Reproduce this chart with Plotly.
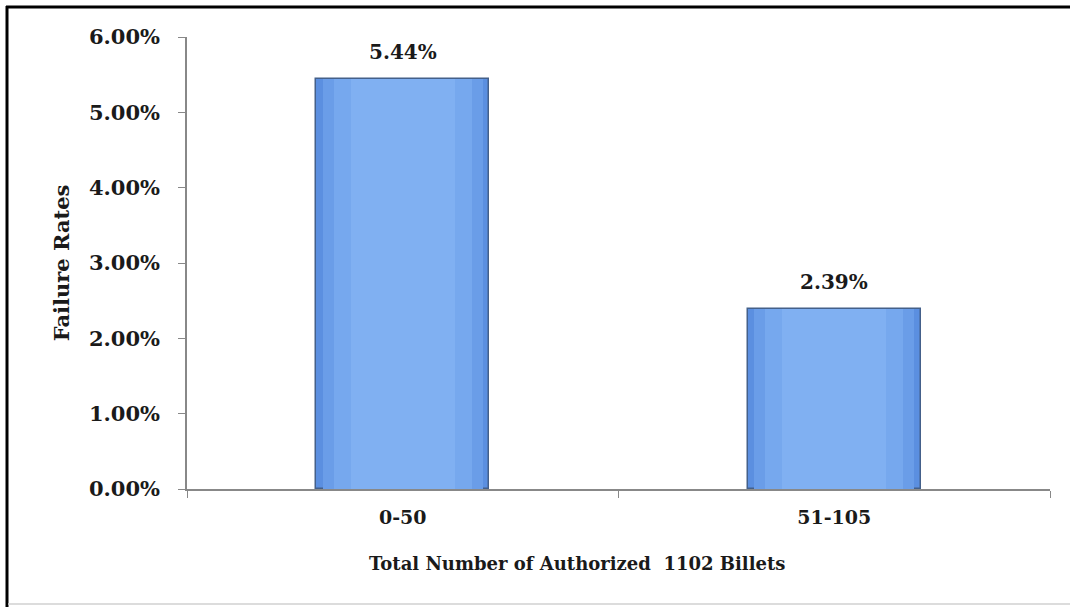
import plotly.graph_objects as go

categories = ["0-50", "51-105"]
failure_rates = [5.44, 2.39]
y_ticks = [0, 1, 2, 3, 4, 5, 6]
y_tick_labels = ["0.00%", "1.00%", "2.00%", "3.00%", "4.00%", "5.00%", "6.00%"]
x_title = "Total Number of Authorized  1102 Billets"
y_title = "Failure Rates"

FONT = "DejaVu Serif"
W, H = 1070, 607
L, R, T, B = 187, 20, 37, 118
pw, ph = W - L - R, H - T - B

def px_x(p):
    return (p - L) / pw

def px_y(p):
    return (H - B - p) / ph

fig = go.Figure()
# layered bars give a soft horizontal shading
layers = [
    (0.40, "#5b8fe0", dict(color="#44608a", width=1.5)),
    (0.37, "#6a9de8", dict(width=0)),
    (0.32, "#76a8ee", dict(width=0)),
    (0.24, "#80b0f2", dict(width=0)),
]
for w, col, ln in layers:
    fig.add_trace(go.Bar(
        x=categories, y=failure_rates, width=w,
        marker=dict(color=col, line=ln),
        hoverinfo="skip", showlegend=False,
    ))

for c, v in zip(categories, failure_rates):
    fig.add_annotation(x=c, y=v, text=f"<b>{v:.2f}%</b>", showarrow=False,
                       yshift=27, font=dict(family=FONT, size=20, color="#1a1a1a"))

# x-axis title placed like the original (slightly left of axis centre)
fig.add_annotation(x=px_x(577), y=px_y(563), xref="paper", yref="paper",
                   xanchor="center", yanchor="middle",
                   text=f"<b>{x_title}</b>", showarrow=False,
                   font=dict(family=FONT, size=18, color="#1a1a1a"))

fig.update_layout(
    width=W, height=H,
    margin=dict(l=L, r=R, t=T, b=B),
    paper_bgcolor="white", plot_bgcolor="white",
    barmode="overlay", bargap=0,
    font=dict(family=FONT, size=18, color="#1a1a1a"),
    showlegend=False,
)
fig.update_xaxes(
    type="category", tickson="boundaries", ticks="outside", ticklen=7,
    tickcolor="#888888", showline=True, linecolor="#888888", linewidth=2,
    showgrid=False, tickfont=dict(family=FONT, size=19, color="#1a1a1a"),
    ticklabelstandoff=10,
    tickprefix="<b>", ticksuffix="</b>",
)
fig.update_yaxes(
    range=[0, 6], tickvals=y_ticks, ticktext=[f"<b>{t}</b>" for t in y_tick_labels],
    ticks="outside", ticklen=7, tickcolor="#888888", showline=True,
    linecolor="#888888", linewidth=1.5, showgrid=False, zeroline=False,
    ticklabelstandoff=14,
    tickfont=dict(family=FONT, size=21, color="#1a1a1a"),
    title=dict(text=f"<b>{y_title}</b>", font=dict(family=FONT, size=21), standoff=14),
)

# frame around the whole chart
fig.add_shape(type="line", xref="paper", yref="paper",
              x0=px_x(6), x1=px_x(1070), y0=px_y(7), y1=px_y(7),
              line=dict(color="black", width=3))
fig.add_shape(type="line", xref="paper", yref="paper",
              x0=px_x(7), x1=px_x(7), y0=px_y(6), y1=px_y(607),
              line=dict(color="black", width=3))
fig.add_shape(type="line", xref="paper", yref="paper",
              x0=px_x(8), x1=px_x(1070), y0=px_y(604), y1=px_y(604),
              line=dict(color="#d0d0d0", width=1.5))

fig.write_html("out.html", config={"displayModeBar": False},
               post_script="document.body.style.margin='0';document.body.style.overflow='hidden';")
